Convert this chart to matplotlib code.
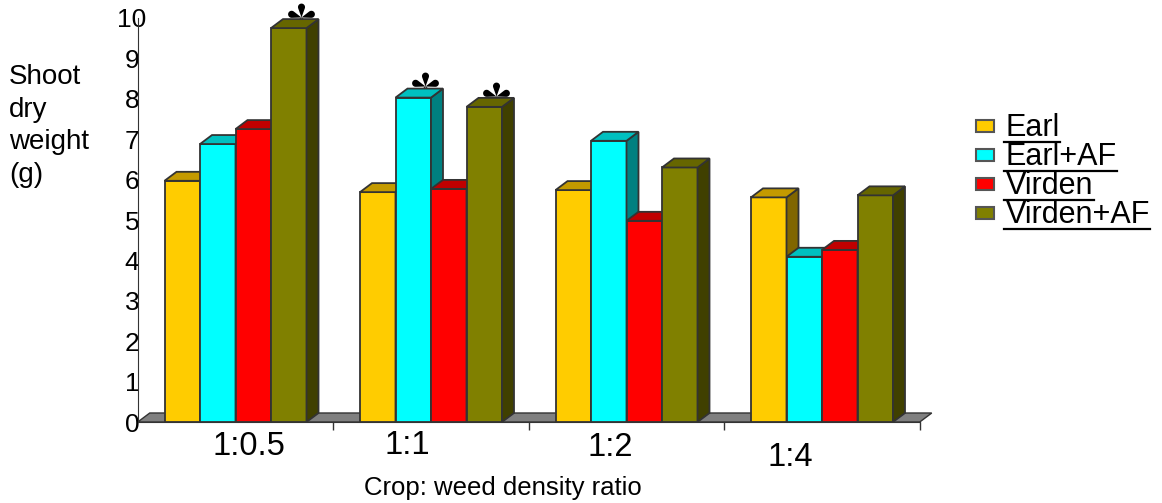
import numpy as np
import matplotlib
matplotlib.use("Agg")
import matplotlib.pyplot as plt
from matplotlib.patches import Polygon, Rectangle
from matplotlib.path import Path
from matplotlib.lines import Line2D

plt.rcParams['font.family'] = ['Liberation Sans', 'DejaVu Sans']

# data
ratios = ["1:0.5", "1:1", "1:2", "1:4"]
series = ["Earl", "Earl+AF", "Virden", "Virden+AF"]
earl = [5.97, 5.69, 5.74, 5.56]
earl_af = [6.88, 8.03, 6.96, 4.09]
virden = [7.25, 5.77, 4.98, 4.26]
virden_af = [9.75, 7.80, 6.30, 5.61]
values = [earl, earl_af, virden, virden_af]
# bars marked with an asterisk (significant)
starred = [
    [False, False, False, False],
    [False, True, False, False],
    [False, False, False, False],
    [True, True, False, False],
]
yticks = list(range(0, 11))

# colours: front, top, side
front_cols = ["#FFCC00", "#00FFFF", "#FF0000", "#808000"]
top_cols = ["#C49A00", "#00C0C0", "#C00000", "#666600"]
side_cols = ["#806600", "#008080", "#800000", "#404000"]
EDGE = "#333333"

W, H = 1162, 503
fig = plt.figure(figsize=(W / 100, H / 100), dpi=100)
ax_box = [137.75 / W, 81 / H, 782 / W, 404 / H]
ax = fig.add_axes(ax_box)
ax.set_xlim(-0.5, 3.5)
ax.set_ylim(0, 10)

# pseudo 3d depth, converted from pixels to data units
px_per_x = ax_box[2] * W / 4
px_per_y = ax_box[3] * H / 10
DX = 12 / px_per_x
DY = 9 / px_per_y
bar_w = 35.5 / px_per_x

# floor
floor = Polygon([(-0.5, 0), (3.5, 0), (3.5 + DX, DY), (-0.5 + DX, DY)],
                closed=True, facecolor="#808080", edgecolor=EDGE, lw=1, zorder=1,
                clip_on=False)
ax.add_patch(floor)


def asterisk_marker(n=5, length=10.0, r=3.4):
    """teardrop spoked asterisk as a Path"""
    verts, codes = [], []
    alpha = np.arcsin(r / length)
    for k in range(n):
        th = np.pi / 2 + k * 2 * np.pi / n
        c = length * np.array([np.cos(th), np.sin(th)])
        phis = np.linspace(th + np.pi / 2 + alpha, th - np.pi / 2 - alpha, 14)
        pts = [(0, 0)] + [tuple(c + r * np.array([np.cos(p), np.sin(p)])) for p in phis]
        verts += pts + [(0, 0)]
        codes += [Path.MOVETO] + [Path.LINETO] * len(phis) + [Path.CLOSEPOLY]
    return Path(verts, codes)


star = asterisk_marker()
x = np.arange(len(ratios))
for s, name in enumerate(series):
    xs = x + (s - 1.5) * bar_w
    bars = ax.bar(xs, values[s], width=bar_w, color=front_cols[s],
                  edgecolor=EDGE, lw=1.3)
    for g, patch in enumerate(bars):
        z = 3 + (g * 4 + s) * 0.01
        patch.set_zorder(z)
        x0 = patch.get_x()
        x1 = x0 + patch.get_width()
        v = patch.get_height()
        top = Polygon([(x0, v), (x0 + DX, v + DY), (x1 + DX, v + DY), (x1, v)],
                      closed=True, facecolor=top_cols[s], edgecolor=EDGE,
                      lw=1.3, zorder=z, clip_on=False)
        side = Polygon([(x1, 0), (x1, v), (x1 + DX, v + DY), (x1 + DX, DY)],
                       closed=True, facecolor=side_cols[s], edgecolor=EDGE,
                       lw=1.3, zorder=z, clip_on=False)
        ax.add_patch(side)
        ax.add_patch(top)
        if starred[s][g]:
            ax.plot(xs[g] + DX, v + DY * 1.25, marker=star, markersize=20,
                    color="black", mew=0, ls="none", zorder=2.5, clip_on=False)

# axes styling
for sp in ["top", "right"]:
    ax.spines[sp].set_visible(False)
ax.spines["left"].set_color(EDGE)
ax.spines["bottom"].set_color(EDGE)
ax.spines["bottom"].set_zorder(2)
ax.set_yticks(yticks)
ax.set_yticklabels([str(t) for t in yticks], fontsize=19, ha="center")
ax.tick_params(axis="y", length=0, pad=4.2)
ax.set_xticks(x + 0.5)
ax.set_xticklabels([])
ax.tick_params(axis="x", length=6, width=1, color=EDGE, direction="out")

# category labels sit a little irregularly in the original
lbl_dx = [13, -23.5, -16, -32]
lbl_dy = [-24.5, -24, -26, -36]
for g, lab in enumerate(ratios):
    ax.annotate(lab, (x[g], 0), xytext=(lbl_dx[g], lbl_dy[g]),
                textcoords="offset pixels", ha="center", va="center",
                fontsize=23.5, annotation_clip=False)

fig.text(502.5 / W, 1 - 488 / H, "Crop: weed density ratio", ha="center",
         va="center", fontsize=18.5)
fig.text(9 / W, 1 - 64 / H, "Shoot\ndry\nweight\n(g)", ha="left", va="top",
         fontsize=20, linespacing=1.33)

# legend drawn by hand (underlined entries)
leg_rows = [126, 155, 184, 213]
texts = []
for s, name in enumerate(series):
    yc = 1 - leg_rows[s] / H
    fig.patches.append(Rectangle((976 / W, yc - 6 / H), 18 / W, 12 / H,
                                 transform=fig.transFigure, facecolor=front_cols[s],
                                 edgecolor="#555555", lw=1.5))
    t = fig.text(1006 / W, 1 - (leg_rows[s] + 10) / H, name, ha="left",
                 va="baseline", fontsize=22)
    texts.append(t)

fig.canvas.draw()
inv = fig.transFigure.inverted()
for s, t in enumerate(texts):
    bb = t.get_window_extent()
    (fx0, _), (fx1, _) = inv.transform([(bb.x0, 0), (bb.x1, 0)])
    yline = 1 - (leg_rows[s] + 15.5) / H
    fig.lines.append(Line2D([fx0 - 2 / W, fx1], [yline, yline], color="black",
                            lw=1.6, transform=fig.transFigure))

fig.savefig("out.png", dpi=100)
